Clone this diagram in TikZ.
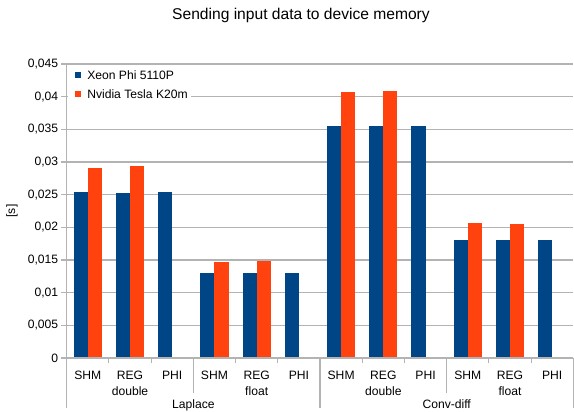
\documentclass[tikz,border=0pt]{standalone}
\usepackage{fontspec}
\setmainfont{Liberation Sans}
\definecolor{xeonblue}{HTML}{004586}
\definecolor{teslaorange}{HTML}{FF420E}
\definecolor{gridgray}{HTML}{B3B3B3}
\begin{document}
\begin{tikzpicture}[x=0.75pt,y=-0.75pt,
  lbl/.style={font=\fontsize{9.1}{11}\selectfont, inner sep=0pt},
  gridline/.style={draw=gridgray, line width=0.8pt},
  axisline/.style={draw=gridgray, line width=0.8pt},
  blueBar/.style={fill=xeonblue},
  orangeBar/.style={fill=teslaorange}]
% canvas
\useasboundingbox[fill=white] (0,0) rectangle (574,411);
\def\xo{66.7}\def\cw{42.22}\def\yz{358}\def\sc{6533.3}

% title
\node[font=\fontsize{11.7}{14}\selectfont, inner sep=0pt, anchor=base] (title) at (301,19.3) {Sending input data to device memory};

% horizontal grid lines and value labels
\foreach \k/\t in {0/0, 1/{0,005}, 2/{0,01}, 3/{0,015}, 4/{0,02}, 5/{0,025}, 6/{0,03}, 7/{0,035}, 8/{0,04}, 9/{0,045}} {
  \draw[gridline] (61,{\yz-\k*32.667}) -- (573.3,{\yz-\k*32.667});
  \node[lbl, anchor=east] (ylab\k) at (58.5,{\yz-\k*32.667}) {\t};
}
\node[lbl, rotate=90] (yaxis) at (12,211) {[s]};

% bars: category index / Xeon value / Tesla value
\foreach \i/\b/\o in {0/0.0254/0.0291, 1/0.02525/0.0294, 2/0.0254/0,
                      3/0.0130/0.0147, 4/0.0130/0.01485, 5/0.0130/0,
                      6/0.0355/0.0407, 7/0.0355/0.0409, 8/0.0355/0,
                      9/0.0180/0.02065, 10/0.0180/0.0205, 11/0.0180/0} {
  \pgfmathsetmacro\cl{\xo+\i*\cw}
  \fill[blueBar] ({\cl+7},\yz) rectangle ({\cl+21.1},{\yz-\b*\sc});
  \fill[orangeBar] ({\cl+21.1},\yz) rectangle ({\cl+35.2},{\yz-\o*\sc});
}

% axes
\draw[axisline] (\xo,64) -- (\xo,407.7);
\draw[axisline] (\xo,\yz) -- (573.3,\yz);
\foreach \i in {1,2,4,5,7,8,10,11} {
  \draw[axisline] ({\xo+\i*\cw},\yz) -- ({\xo+\i*\cw},363.3);
}
\foreach \i in {3,9} {
  \draw[axisline] ({\xo+\i*\cw},\yz) -- ({\xo+\i*\cw},392.7);
}
\foreach \i in {6,12} {
  \draw[axisline] ({\xo+\i*\cw},\yz) -- ({\xo+\i*\cw},407.7);
}

% category labels
\foreach \i/\t in {0/SHM, 1/REG, 2/PHI, 3/SHM, 4/REG, 5/PHI,
                   6/SHM, 7/REG, 8/PHI, 9/SHM, 10/REG, 11/PHI} {
  \node[lbl, anchor=base] (cat\i) at ({\xo+(\i+0.5)*\cw},379.3) {\t};
}
\node[lbl, anchor=base] (prec1) at ({\xo+1.5*\cw},395) {double};
\node[lbl, anchor=base] (prec2) at ({\xo+4.5*\cw},395) {float};
\node[lbl, anchor=base] (prec3) at ({\xo+7.5*\cw},395) {double};
\node[lbl, anchor=base] (prec4) at ({\xo+10.5*\cw},395) {float};
\node[lbl, anchor=base] (grp1) at ({\xo+3*\cw},408.3) {Laplace};
\node[lbl, anchor=base] (grp2) at ({\xo+9*\cw},408.3) {Conv-diff};

% legend
\fill[white] (68,66) rectangle (191,104);
\fill[blueBar] (75,72) rectangle (81,78);
\node[lbl, anchor=west] (leg1) at (87,75.5) {Xeon Phi 5110P};
\fill[orangeBar] (75,90.7) rectangle (81,96.7);
\node[lbl, anchor=west] (leg2) at (87,94) {Nvidia Tesla K20m};
\end{tikzpicture}
\end{document}
